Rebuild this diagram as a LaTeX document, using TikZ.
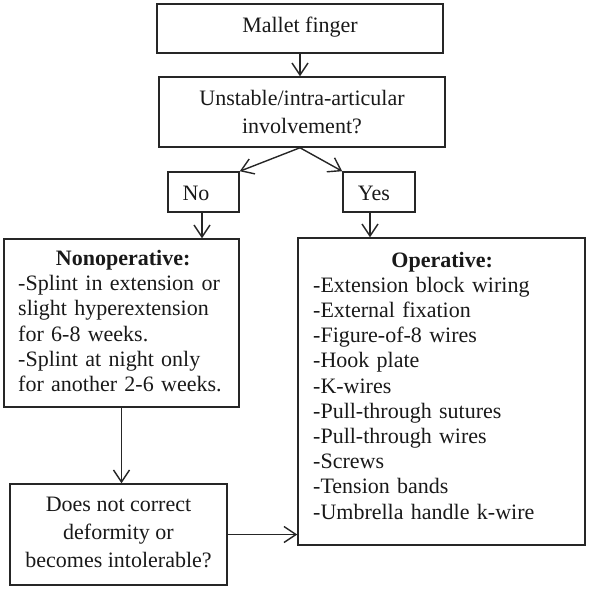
\documentclass[tikz,border=0pt]{standalone}
\usepackage{fontspec}
\setmainfont{Liberation Serif}
\usetikzlibrary{arrows.meta}
\begin{document}
\begin{tikzpicture}[x=1pt,y=-1pt,
  box/.style={draw=black!85, line width=1.5pt, inner sep=0pt, rectangle},
  txt/.style={inner sep=0pt, text=black!90, font=\fontsize{22}{25.2}\selectfont},
  txtwide/.style={inner sep=0pt, text=black!90, font=\fontsize{22}{28}\selectfont},
  arr/.style={draw=black!85, line width=1.4pt, -{Straight Barb[length=12pt,width=16pt,line width=1.4pt]}}]
\useasboundingbox (0,0) rectangle (589,590);
% boxes
\node[box, minimum width=286pt, minimum height=49pt] (m) at (300,28.5) {};
\node[box, minimum width=286pt, minimum height=70pt] (u) at (302,112) {};
\node[box, minimum width=71pt, minimum height=40pt] (no) at (203.5,192) {};
\node[box, minimum width=72pt, minimum height=40pt] (yes) at (379,192) {};
\node[box, minimum width=235pt, minimum height=168pt] (non) at (121.5,323) {};
\node[box, minimum width=287pt, minimum height=307pt] (op) at (441.5,391.5) {};
\node[box, minimum width=217pt, minimum height=101pt] (does) at (118.5,534.5) {};
% texts
\node[txt, anchor=base] (tm) at (300,32) {Mallet finger};
\node[txtwide, anchor=north, align=center] (tu) at (302,90) {Unstable/intra-articular\\involvement?};
\node[txt, anchor=base] (tno) at (196,200) {No};
\node[txt, anchor=base] (tyes) at (374,200) {Yes};
\node[txt, anchor=north west, text width=210pt, align=left] (tnon) at (18,250) {%
{\centering\textbf{Nonoperative:}\par}
-Splint in extension or\\
slight hyperextension\\
for 6-8 weeks.\\
-Splint at night only\\
for another 2-6 weeks.};
\node[txt, anchor=north west, text width=258pt, align=left] (top) at (313,251.7) {%
{\centering\textbf{Operative:}\par}
-Extension block wiring\\
-External fixation\\
-Figure-of-8 wires\\
-Hook plate\\
-K-wires\\
-Pull-through sutures\\
-Pull-through wires\\
-Screws\\
-Tension bands\\
-Umbrella handle k-wire};
\node[txtwide, anchor=north, align=center] (tdoes) at (118.5,497) {Does not correct\\deformity or\\becomes intolerable?};
% connectors
\coordinate (usplit) at (u.south -| m.south);
\coordinate (yesout) at ([xshift=-9pt]yes.south);
\draw[arr] (m.south) -- (m.south |- u.north);
\draw[arr] (usplit) -- (no.north east);
\draw[arr] (usplit) -- (yes.north west);
\draw[arr] ([xshift=-1.5pt]no.south) -- ([xshift=-1.5pt]no.south |- non.north);
\draw[arr] (yesout) -- (yesout |- op.north);
\draw[arr] (non.south) -- (non.south |- does.north);
\draw[arr] (does.east) -- (does.east -| op.west);
\end{tikzpicture}
\end{document}
